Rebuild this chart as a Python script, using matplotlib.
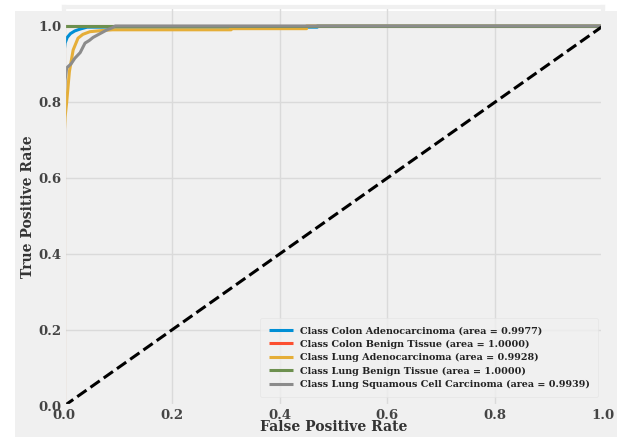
import matplotlib
matplotlib.use("Agg")
import matplotlib.pyplot as plt
from matplotlib.patches import Rectangle

plt.style.use("fivethirtyeight")
plt.rcParams["font.family"] = ["DejaVu Serif"]
plt.rcParams["font.weight"] = "bold"

# ROC curves (false positive rate, true positive rate) per class
class_names = [
    "Colon Adenocarcinoma",
    "Colon Benign Tissue",
    "Lung Adenocarcinoma",
    "Lung Benign Tissue",
    "Lung Squamous Cell Carcinoma",
]
auc_values = [0.9977, 1.0000, 0.9928, 1.0000, 0.9939]

fpr_colon_adeno = [0.0, 0.0, 0.002, 0.006, 0.012, 0.02, 0.03, 0.043, 0.2, 0.47, 0.47, 1.0]
tpr_colon_adeno = [0.0, 0.93, 0.955, 0.97, 0.98, 0.987, 0.992, 0.997, 0.997, 0.997, 1.0, 1.0]

fpr_colon_benign = [0.0, 0.0, 1.0]
tpr_colon_benign = [0.0, 1.0, 1.0]

fpr_lung_adeno = [0.0, 0.0, 0.002, 0.005, 0.01, 0.017, 0.026, 0.035, 0.048, 0.07, 0.09, 0.31, 0.31, 0.45, 0.45, 1.0]
tpr_lung_adeno = [0.0, 0.70, 0.76, 0.80, 0.88, 0.937, 0.968, 0.978, 0.985, 0.988, 0.99, 0.99, 0.993, 0.993, 1.0, 1.0]

fpr_lung_benign = [0.0, 0.0, 1.0]
tpr_lung_benign = [0.0, 1.0, 1.0]

fpr_lung_scc = [0.0, 0.0, 0.002, 0.005, 0.013, 0.02, 0.03, 0.039, 0.047, 0.054, 0.067, 0.08, 0.089, 0.095, 1.0]
tpr_lung_scc = [0.0, 0.80, 0.858, 0.89, 0.90, 0.915, 0.93, 0.955, 0.962, 0.97, 0.98, 0.99, 0.995, 1.0, 1.0]

fpr_all = [fpr_colon_adeno, fpr_colon_benign, fpr_lung_adeno, fpr_lung_benign, fpr_lung_scc]
tpr_all = [tpr_colon_adeno, tpr_colon_benign, tpr_lung_adeno, tpr_lung_benign, tpr_lung_scc]
colors = ["#008fd5", "#fc4f30", "#e5ae38", "#6d904f", "#8b8b8b"]

fig = plt.figure(figsize=(6.24, 4.37), dpi=100, facecolor="white")
fig.patches.append(Rectangle((15 / 624, 0), 602 / 624, 426 / 437,
                             transform=fig.transFigure, facecolor="#f0f0f0",
                             edgecolor="none", zorder=-10))
ax = fig.add_axes([64 / 624, 31 / 437, 539 / 624, 399 / 437])
ax.patch.set_visible(False)

for name, auc, fpr, tpr, c in zip(class_names, auc_values, fpr_all, tpr_all, colors):
    ax.plot(fpr, tpr, color=c, lw=2.2,
            label=f"Class {name} (area = {auc:.4f})")

ax.plot([0, 1], [0, 1], "k--", lw=2.2)
ax.set_xlim(0.0, 1.0)
ax.set_ylim(0.0, 1.05)
ax.set_xticks([0.0, 0.2, 0.4, 0.6, 0.8, 1.0])
ax.set_yticks([0.0, 0.2, 0.4, 0.6, 0.8, 1.0])
ax.grid(True, color="#dadada", lw=1.0)
ax.tick_params(axis="both", labelsize=9.5, colors="#444444", pad=2)
for lab in ax.get_xticklabels() + ax.get_yticklabels():
    lab.set_fontweight("bold")

ax.set_xlabel("False Positive Rate", fontsize=10, fontweight="bold", color="#333333", labelpad=-1)
ax.set_ylabel("True Positive Rate", fontsize=10, fontweight="bold", color="#333333", labelpad=2)

leg = ax.legend(loc="lower right", fontsize=6.9, frameon=True, handlelength=2.5,
                borderpad=0.85, labelspacing=0.45, bbox_to_anchor=(1.0, 0.01))
leg.get_frame().set_facecolor("#f0f0f0")
leg.get_frame().set_edgecolor("#e2e2e2")
for t in leg.get_texts():
    t.set_color("#222222")

fig.savefig("out.png", dpi=100, facecolor="white")
